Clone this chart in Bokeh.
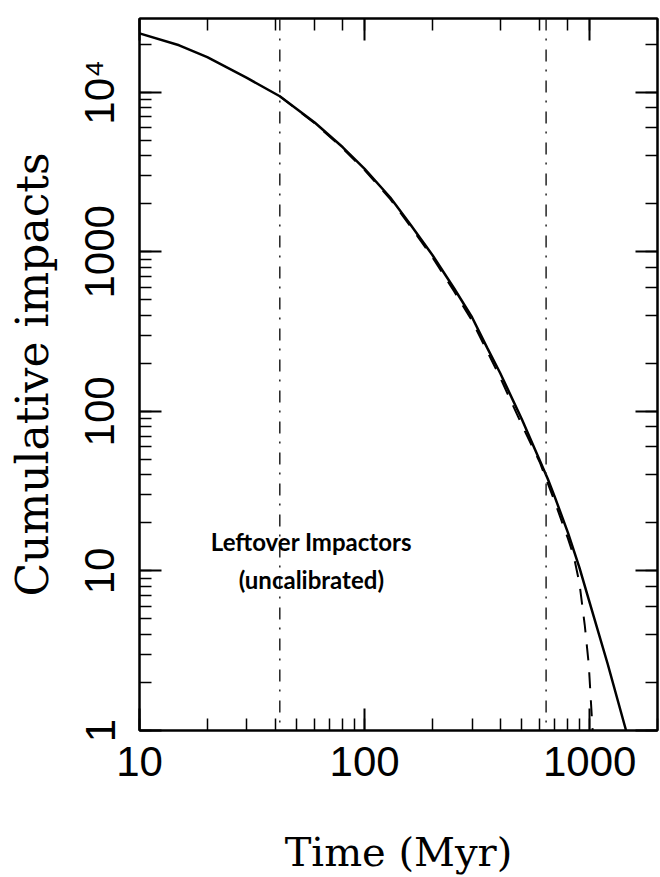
from bokeh.plotting import figure
from bokeh.models import LogAxis, Span, Label, Range1d, CustomJSTickFormatter
from bokeh.embed import file_html
from bokeh.resources import INLINE

# ---- data ----
time_solid = [10, 15, 20, 30, 42, 60, 80, 100, 130, 160, 200, 250, 300, 350, 400, 500, 650, 700, 800, 900, 1000, 1200, 1450]
impacts_solid = [23400, 19700, 16600, 12300, 9440, 6460, 4520, 3310, 2190, 1480, 955, 589, 389, 251, 174, 89, 38, 29, 17.4, 10.5, 6.3, 2.63, 1.0]

time_dashed = [42, 60, 80, 100, 130, 160, 200, 250, 300, 400, 500, 600, 700, 800, 850, 900, 950, 990, 1010, 1030]
impacts_dashed = [9440, 6400, 4450, 3250, 2140, 1440, 925, 565, 370, 163, 82, 48, 27, 16, 12.3, 8.4, 4.6, 2.6, 1.6, 1.0]

epoch_times = [42, 640]

x_ticks = [10, 100, 1000]
x_tick_labels = ["10", "100", "1000"]
y_ticks = [1, 10, 100, 1000, 10000]
y_tick_labels = ["1", "10", "100", "1000", "10\u2074"]

annotation_lines = ["Leftover Impactors", "(uncalibrated)"]

p = figure(width=660, height=877, x_axis_type="log", y_axis_type="log",
           x_range=Range1d(10, 2000), y_range=Range1d(1, 29000),
           output_backend="svg", toolbar_location=None,
           min_border_left=139, min_border_right=3, min_border_top=18, min_border_bottom=146)

p.background_fill_color = "white"
p.border_fill_color = "white"
p.outline_line_color = "black"
p.outline_line_width = 2
p.xgrid.visible = False
p.ygrid.visible = False

# main curves
p.line(time_solid, impacts_solid, line_color="black", line_width=2.5)
p.line(time_dashed, impacts_dashed, line_color="black", line_width=2, line_dash="16 12")

# epoch markers
for t in epoch_times:
    p.add_layout(Span(location=t, dimension="height", line_color="#222222",
                      line_width=1.5, line_dash="12 8 2 9"))

fmt_code = """
for (let i = 0; i < vals.length; i++) {
    if (Math.abs(Math.log10(tick) - Math.log10(vals[i])) < 1e-6) { return labs[i]; }
}
return '';
"""

def style_axis(ax, show_labels):
    ax.axis_line_color = "black"
    ax.axis_line_width = 2
    ax.major_tick_in = 22
    ax.major_tick_out = 0
    ax.minor_tick_in = 12
    ax.minor_tick_out = 0
    ax.major_tick_line_width = 2
    ax.minor_tick_line_width = 1.5
    ax.major_tick_line_color = "black"
    ax.minor_tick_line_color = "black"
    if not show_labels:
        ax.formatter = CustomJSTickFormatter(code="return '';")
        ax.major_label_text_font_size = "1px"
        ax.major_label_text_alpha = 0
        ax.major_label_standoff = 0

xa = p.xaxis[0]
style_axis(xa, True)
xa.formatter = CustomJSTickFormatter(args=dict(vals=x_ticks, labs=x_tick_labels), code=fmt_code)
xa.major_label_text_font = "Liberation Sans"
xa.major_label_text_font_size = "42px"
xa.major_label_text_color = "black"
xa.major_label_standoff = 16
xa.axis_label = "Time (Myr)"
xa.axis_label_text_font = "DejaVu Serif"
xa.axis_label_text_font_style = "normal"
xa.axis_label_text_font_size = "40px"
xa.axis_label_text_color = "black"
xa.axis_label_standoff = 50

ya = p.yaxis[0]
style_axis(ya, True)
ya.formatter = CustomJSTickFormatter(args=dict(vals=y_ticks, labs=y_tick_labels), code=fmt_code)
ya.major_label_orientation = "vertical"
ya.major_label_text_font = "Liberation Sans"
ya.major_label_text_font_size = "42px"
ya.major_label_text_color = "black"
ya.major_label_standoff = 16
ya.axis_label = "Cumulative impacts"
ya.axis_label_text_font = "DejaVu Serif"
ya.axis_label_text_font_style = "normal"
ya.axis_label_text_font_size = "44px"
ya.axis_label_text_color = "black"
ya.axis_label_standoff = 16

top = LogAxis()
style_axis(top, False)
p.add_layout(top, "above")
right = LogAxis()
style_axis(right, False)
p.add_layout(right, "right")

for txt, yv in zip(annotation_lines, [15.2, 8.8]):
    p.add_layout(Label(x=58, y=yv, text=txt, text_font="Lato", text_font_style="bold",
                       text_font_size="24px", text_align="center", text_baseline="middle",
                       text_color="black"))

open("out.html", "w").write(file_html(p, INLINE))
